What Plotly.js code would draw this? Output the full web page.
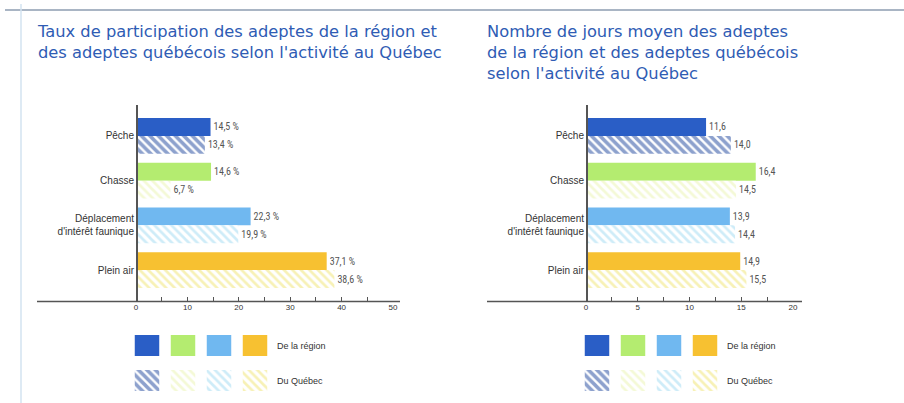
<!DOCTYPE html>
<html><head><meta charset="utf-8">
<script src="https://cdn.plot.ly/plotly-3.0.1.min.js"></script>
<style>body{margin:0;background:#fff}#c{width:904px;height:403px}</style>
</head><body><div id="c"></div>
<script>
// ---- data ----
const categories = ['Pêche', 'Chasse', "Déplacement<br>d'intérêt faunique", 'Plein air'];
const tauxRegion = [14.5, 14.6, 22.3, 37.1];
const tauxQuebec = [13.4, 6.7, 19.9, 38.6];
const joursRegion = [11.6, 16.4, 13.9, 14.9];
const joursQuebec = [14.0, 14.5, 14.4, 15.5];
const seriesNames = ['De la région', 'Du Québec'];
const title1 = 'Taux de participation des adeptes de la région et<br>des adeptes québécois selon l\'activité au Québec';
const title2 = 'Nombre de jours moyen des adeptes<br>de la région et des adeptes québécois<br>selon l\'activité au Québec';

// ---- styles ----
const W = 904, H = 403;
const px = v => v / W, py = v => 1 - v / H;
const solidColors = ['#2a5ec6', '#b4ec70', '#70b8f0', '#f7c131'];
const hatchColors = ['#1c449c', '#eaf3ae', '#9ed9f1', '#efe46e'];
const hatchSolid = [0.6, 0.45, 0.45, 0.45];
const font = 'DejaVu Sans, Open Sans, sans-serif';
const fmtPct = v => v.toFixed(1).replace('.', ',') + ' %';
const fmtNum = v => v.toFixed(1).replace('.', ',');

function pair(xs1, xs2, fmt, xa, ya) {
  const common = {type: 'bar', orientation: 'h', y: categories, xaxis: xa, yaxis: ya,
    width: 0.4, textposition: 'outside', cliponaxis: false, hoverinfo: 'skip',
    textfont: {family: 'Liberation Sans Narrow, Roboto Condensed, Arial Narrow, sans-serif', size: 10, color: '#555'}};
  return [
    Object.assign({}, common, {x: xs1, offset: -0.4, name: seriesNames[0],
      text: xs1.map(fmt), marker: {color: solidColors, line: {width: 0}}}),
    Object.assign({}, common, {x: xs2, offset: 0, name: seriesNames[1],
      text: xs2.map(fmt),
      marker: {color: '#ffffff', line: {width: 0},
        pattern: {shape: '\\', fgcolor: hatchColors, bgcolor: '#ffffff', size: 6, solidity: hatchSolid, fillmode: 'overlay'}}})
  ];
}

// legend swatches (bars on hidden axes)
const swatchIdx = [0, 1, 2, 3];
function legendTraces(xa, ya) {
  const c = {type: 'bar', orientation: 'v', x: swatchIdx, xaxis: xa, yaxis: ya, width: 0.68,
    hoverinfo: 'skip', showlegend: false};
  return [
    Object.assign({}, c, {y: [21, 21, 21, 21], base: 35, marker: {color: solidColors, line: {width: 0}}}),
    Object.assign({}, c, {y: [21, 21, 21, 21], base: 0,
      marker: {color: '#ffffff', line: {width: 0},
        pattern: {shape: '\\', fgcolor: hatchColors, bgcolor: '#ffffff', size: 6, solidity: hatchSolid, fillmode: 'overlay'}}})
  ];
}

const data = [].concat(
  pair(tauxRegion, tauxQuebec, fmtPct, 'x', 'y'),
  pair(joursRegion, joursQuebec, fmtNum, 'x2', 'y2'),
  legendTraces('x3', 'y3'),
  legendTraces('x4', 'y4')
);

const yTop = 105, yBot = 301;
const yRange = [3.69, -0.69];
const catAxis = {type: 'category', range: yRange, showline: true, linecolor: '#555', linewidth: 1.5,
  ticks: '', showgrid: false, zeroline: false, fixedrange: true,
  tickfont: {family: 'Liberation Sans Narrow, Arial Narrow, sans-serif', size: 10, color: '#333'},
  domain: [py(yBot), py(yTop)]};
const valAxis = (dom, rng, dt) => ({domain: dom, range: rng, dtick: dt, tick0: 0, showline: false,
  showgrid: false, zeroline: false, ticks: 'inside', ticklen: 4, tickcolor: '#555', tickwidth: 1,
  minor: {dtick: dt / 2, ticks: 'inside', ticklen: 4, tickcolor: '#555', tickwidth: 1, showgrid: false},
  tickfont: {family: 'Liberation Sans Narrow, Arial Narrow, sans-serif', size: 8, color: '#333'},
  anchor: 'free', position: py(yBot), fixedrange: true});
const hidden = (dom, rng) => ({domain: dom, range: rng, visible: false, fixedrange: true});

const layout = {
  width: W, height: H, margin: {l: 0, r: 0, t: 0, b: 0}, showlegend: false,
  paper_bgcolor: '#fff', plot_bgcolor: 'rgba(0,0,0,0)', barmode: 'overlay',
  font: {family: font},
  xaxis: valAxis([px(136), px(393)], [0, 50], 10),
  yaxis: Object.assign({}, catAxis, {anchor: 'free', position: px(136)}),
  xaxis2: valAxis([px(586), px(793)], [0, 20], 5),
  yaxis2: Object.assign({}, catAxis, {anchor: 'free', position: px(586)}),
  xaxis3: hidden([px(129), px(273)], [-0.5, 3.5]),
  yaxis3: hidden([py(391), py(335)], [0, 56]),
  xaxis4: hidden([px(579), px(723)], [-0.5, 3.5]),
  yaxis4: hidden([py(391), py(335)], [0, 56]),
  shapes: [
    {type: 'line', xref: 'paper', yref: 'paper', x0: px(5), x1: 1, y0: py(10), y1: py(10), line: {color: '#8d9cb0', width: 1.5}},
    {type: 'line', xref: 'paper', yref: 'paper', x0: px(21), x1: px(21), y0: py(4), y1: 0, line: {color: '#d3e3f0', width: 1.5}},
    {type: 'line', xref: 'paper', yref: 'paper', x0: px(37), x1: px(400), y0: py(301.5), y1: py(301.5), line: {color: '#555', width: 1.5}},
    {type: 'line', xref: 'paper', yref: 'paper', x0: px(487), x1: px(802), y0: py(301.5), y1: py(301.5), line: {color: '#555', width: 1.5}}
  ],
  annotations: [
    {xref: 'paper', yref: 'paper', x: px(35), y: py(20), xanchor: 'left', yanchor: 'top', align: 'left', showarrow: false,
      text: title1, font: {family: font, size: 16.3, color: '#2f5cb4'}},
    {xref: 'paper', yref: 'paper', x: px(485), y: py(20), xanchor: 'left', yanchor: 'top', align: 'left', showarrow: false,
      text: title2, font: {family: font, size: 16.3, color: '#2f5cb4'}},
    {xref: 'paper', yref: 'paper', x: px(275), y: py(346), xanchor: 'left', yanchor: 'middle', showarrow: false,
      text: seriesNames[0], font: {family: 'Liberation Sans Narrow, sans-serif', size: 9, color: '#333'}},
    {xref: 'paper', yref: 'paper', x: px(275), y: py(381), xanchor: 'left', yanchor: 'middle', showarrow: false,
      text: seriesNames[1], font: {family: 'Liberation Sans Narrow, sans-serif', size: 9, color: '#333'}},
    {xref: 'paper', yref: 'paper', x: px(725), y: py(346), xanchor: 'left', yanchor: 'middle', showarrow: false,
      text: seriesNames[0], font: {family: 'Liberation Sans Narrow, sans-serif', size: 9, color: '#333'}},
    {xref: 'paper', yref: 'paper', x: px(725), y: py(381), xanchor: 'left', yanchor: 'middle', showarrow: false,
      text: seriesNames[1], font: {family: 'Liberation Sans Narrow, sans-serif', size: 9, color: '#333'}}
  ]
};

Plotly.newPlot('c', data, layout, {displayModeBar: false, staticPlot: true});
</script></body></html>
